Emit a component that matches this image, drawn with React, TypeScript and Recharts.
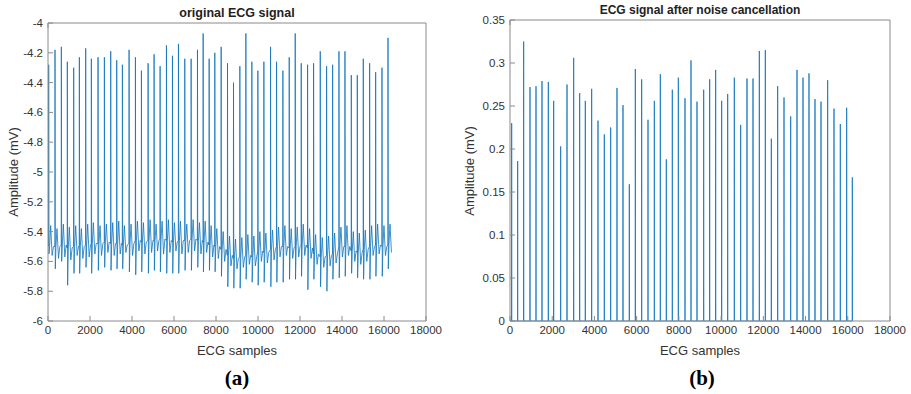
import React from 'react';
import { LineChart, Line, XAxis, YAxis } from 'recharts';

// R-peak sample positions
const rawBeats = [
  32, 334, 636, 921, 1223, 1494, 1795, 2065, 2383, 2685,
  2987, 3273, 3543, 3861, 4163, 4449, 4767, 5052, 5338, 5640,
  5926, 6212, 6514, 6816, 7118, 7388, 7674, 7944, 8246, 8548,
  8834, 9136, 9422, 9708, 9994, 10280, 10598, 10884, 11185, 11487,
  11773, 12059, 12361, 12647, 12965, 13267, 13553, 13855, 14141, 14443,
  14729, 15014, 15316, 15602, 15904, 16190,
];

const rawPeaks = [
  -4.28, -4.18, -4.16, -4.26, -4.30, -4.23, -4.17, -4.24, -4.23, -4.23,
  -4.19, -4.25, -4.28, -4.18, -4.23, -4.32, -4.27, -4.21, -4.29, -4.15,
  -4.22, -4.14, -4.24, -4.24, -4.18, -4.07, -4.24, -4.20, -4.16, -4.27,
  -4.40, -4.29, -4.07, -4.26, -4.32, -4.26, -4.16, -4.26, -4.32, -4.23,
  -4.07, -4.27, -4.28, -4.27, -4.19, -4.29, -4.28, -4.19, -4.19, -4.35,
  -4.35, -4.24, -4.27, -4.33, -4.30, -4.10,
];

const sWaves = [
  -5.55, -5.65, -5.60, -5.76, -5.68, -5.68, -5.64, -5.68, -5.66, -5.64,
  -5.66, -5.65, -5.65, -5.67, -5.69, -5.67, -5.68, -5.66, -5.67, -5.68,
  -5.68, -5.68, -5.66, -5.66, -5.64, -5.67, -5.66, -5.67, -5.70, -5.77,
  -5.78, -5.78, -5.72, -5.74, -5.76, -5.74, -5.77, -5.74, -5.74, -5.72,
  -5.72, -5.70, -5.79, -5.72, -5.77, -5.80, -5.72, -5.71, -5.70, -5.68,
  -5.71, -5.72, -5.72, -5.70, -5.70, -5.65,
];

const tWaves = [
  -5.36, -5.38, -5.35, -5.37, -5.36, -5.38, -5.35, -5.34, -5.36, -5.35,
  -5.34, -5.33, -5.36, -5.35, -5.33, -5.34, -5.32, -5.35, -5.33, -5.32,
  -5.34, -5.33, -5.35, -5.32, -5.34, -5.33, -5.36, -5.38, -5.40, -5.43,
  -5.45, -5.44, -5.42, -5.43, -5.40, -5.41, -5.39, -5.37, -5.36, -5.38,
  -5.37, -5.35, -5.38, -5.42, -5.44, -5.43, -5.41, -5.37, -5.36, -5.40,
  -5.41, -5.39, -5.36, -5.35, -5.36, -5.35,
];

const coreLevels = [
  -5.50, -5.50, -5.49, -5.51, -5.50, -5.50, -5.49, -5.48, -5.48, -5.47,
  -5.48, -5.48, -5.49, -5.48, -5.46, -5.47, -5.46, -5.46, -5.45, -5.46,
  -5.47, -5.46, -5.46, -5.45, -5.46, -5.47, -5.49, -5.50, -5.52, -5.56,
  -5.58, -5.57, -5.56, -5.57, -5.53, -5.54, -5.52, -5.50, -5.50, -5.51,
  -5.50, -5.49, -5.51, -5.55, -5.57, -5.56, -5.55, -5.50, -5.50, -5.53,
  -5.54, -5.52, -5.50, -5.49, -5.50, -5.49,
];

const lowLevels = [
  -5.56, -5.58, -5.57, -5.59, -5.56, -5.58, -5.57, -5.55, -5.56, -5.54,
  -5.56, -5.55, -5.54, -5.56, -5.53, -5.55, -5.54, -5.53, -5.55, -5.54,
  -5.53, -5.55, -5.54, -5.53, -5.55, -5.54, -5.57, -5.58, -5.60, -5.63,
  -5.65, -5.64, -5.62, -5.63, -5.60, -5.61, -5.59, -5.57, -5.56, -5.58,
  -5.57, -5.56, -5.58, -5.62, -5.64, -5.63, -5.61, -5.57, -5.56, -5.60,
  -5.62, -5.60, -5.56, -5.55, -5.56, -5.54,
];

// spike positions and heights
const cleanBeats = [
  79, 363, 647, 947, 1232, 1516, 1816, 2068, 2400, 2700,
  3016, 3300, 3568, 3868, 4168, 4468, 4768, 5068, 5352, 5652,
  5937, 6237, 6537, 6837, 7121, 7405, 7689, 7974, 8290, 8574,
  8858, 9174, 9458, 9742, 10026, 10311, 10626, 10926, 11226, 11511,
  11811, 12095, 12379, 12679, 12979, 13295, 13595, 13879, 14163, 14447,
  14732, 15047, 15347, 15647, 15947, 16216,
];

const cleanPeaks = [
  0.230, 0.186, 0.325, 0.272, 0.273, 0.279, 0.278, 0.256, 0.203, 0.275,
  0.306, 0.265, 0.256, 0.270, 0.233, 0.217, 0.225, 0.271, 0.251, 0.159,
  0.293, 0.281, 0.234, 0.256, 0.287, 0.188, 0.269, 0.283, 0.259, 0.303,
  0.255, 0.269, 0.281, 0.292, 0.256, 0.264, 0.283, 0.228, 0.282, 0.282,
  0.314, 0.315, 0.212, 0.273, 0.260, 0.238, 0.292, 0.283, 0.288, 0.258,
  0.255, 0.280, 0.247, 0.229, 0.248, 0.167,
];

const xTicks = [0, 2000, 4000, 6000, 8000, 10000, 12000, 14000, 16000, 18000];
const rawTicks = [-6, -5.8, -5.6, -5.4, -5.2, -5, -4.8, -4.6, -4.4, -4.2, -4];
const cleanTicks = [0, 0.05, 0.1, 0.15, 0.2, 0.25, 0.3, 0.35];

const SIGNAL_END = 16384;

const rawData: { x: number; y: number }[] = [];
rawBeats.forEach((p, i) => {
  rawData.push({ x: p - 6, y: coreLevels[i] });
  rawData.push({ x: p, y: rawPeaks[i] });
  rawData.push({ x: p + 14, y: sWaves[i] });
  rawData.push({ x: p + 45, y: coreLevels[i] });
  rawData.push({ x: p + 95, y: tWaves[i] });
  rawData.push({ x: p + 165, y: lowLevels[i] });
  rawData.push({ x: p + 230, y: coreLevels[i] });
});
const rawSeries = rawData.filter((d) => d.x <= SIGNAL_END);

const cleanSeries: { x: number; y: number }[] = [{ x: 0, y: 0 }];
cleanBeats.forEach((p, i) => {
  cleanSeries.push({ x: p - 6, y: 0 });
  cleanSeries.push({ x: p, y: cleanPeaks[i] });
  cleanSeries.push({ x: p + 6, y: 0 });
});

const AXIS = '#8a8a8a';
const TICK = { fontSize: 11.5, fill: '#333' };
const blank = () => '';

const Panel = ({ data, yTicks, yDomain, left, width, yWidth, mTop, mRight }: any) => (
  <div style={{ position: 'absolute', left, top: 0 }}>
    <LineChart
      width={width}
      height={394}
      data={data}
      margin={{ top: mTop, right: mRight, left: 0, bottom: 0 }}
    >
      <XAxis
        dataKey="x"
        type="number"
        domain={[0, 18000]}
        ticks={xTicks}
        height={73}
        stroke={AXIS}
        tick={TICK}
        tickSize={-5}
        tickMargin={10}
        interval={0}
      />
      <XAxis
        xAxisId="top"
        orientation="top"
        type="number"
        domain={[0, 18000]}
        ticks={xTicks}
        height={1}
        stroke={AXIS}
        tickFormatter={blank}
        tickSize={-5}
        interval={0}
      />
      <YAxis
        type="number"
        domain={yDomain}
        ticks={yTicks}
        width={yWidth}
        stroke={AXIS}
        tick={TICK}
        tickSize={-5}
        tickMargin={10}
        interval={0}
      />
      <YAxis
        yAxisId="right"
        orientation="right"
        type="number"
        domain={yDomain}
        ticks={yTicks}
        width={1}
        stroke={AXIS}
        tickFormatter={blank}
        tickSize={-5}
        interval={0}
      />
      <Line
        dataKey="y"
        type="linear"
        stroke="#0f74bc"
        strokeWidth={0.8}
        dot={false}
        isAnimationActive={false}
      />
    </LineChart>
  </div>
);

export default function App() {
  return (
    <div
      style={{
        position: 'absolute',
        left: 0,
        top: 0,
        width: 911,
        height: 394,
        background: '#fff',
        fontFamily: '"Liberation Sans", Arial, sans-serif',
      }}
    >
      <Panel data={rawSeries} yTicks={rawTicks} yDomain={[-6, -4]} left={0} width={455} yWidth={48} mTop={22} mRight={28} />
      <Panel data={cleanSeries} yTicks={cleanTicks} yDomain={[0, 0.35]} left={455} width={456} yWidth={55} mTop={19} mRight={20} />
      <svg width={911} height={394} style={{ position: 'absolute', left: 0, top: 0, pointerEvents: 'none' }}>
        <text x={237} y={17} textAnchor="middle" fontSize={12.5} fontWeight="bold" fill="#222">original ECG signal</text>
        <text x={700} y={14} textAnchor="middle" fontSize={12} fontWeight="bold" fill="#222">ECG signal after noise cancellation</text>
        <text x={237} y={355} textAnchor="middle" fontSize={13} fill="#333">ECG samples</text>
        <text x={700} y={355} textAnchor="middle" fontSize={13} fill="#333">ECG samples</text>
        <text transform="translate(18,172) rotate(-90)" textAnchor="middle" fontSize={13} fill="#333">Amplitude (mV)</text>
        <text transform="translate(474,171) rotate(-90)" textAnchor="middle" fontSize={13} fill="#333">Amplitude (mV)</text>
        <text x={237} y={385} textAnchor="middle" fontSize={21} fontWeight="bold" fontFamily='"Liberation Serif", "Times New Roman", serif' fill="#000">(a)</text>
        <text x={702} y={385} textAnchor="middle" fontSize={21} fontWeight="bold" fontFamily='"Liberation Serif", "Times New Roman", serif' fill="#000">(b)</text>
      </svg>
    </div>
  );
}
